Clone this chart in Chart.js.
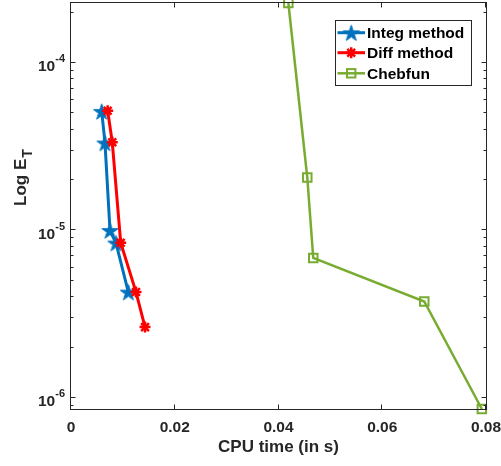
<!DOCTYPE html>
<html>
<head>
<meta charset="utf-8">
<script src="https://cdn.jsdelivr.net/npm/chart.js@4.4.0/dist/chart.umd.min.js"></script>
<style>
  html, body { margin: 0; padding: 0; background: #ffffff; }
  #wrap { width: 501px; height: 466px; }
</style>
</head>
<body>
<div id="wrap"><canvas id="c" width="501" height="466"></canvas></div>
<script>
const integTime = [0.00592, 0.00655, 0.00752, 0.00867, 0.01105];
const integErr  = [5.14e-5, 3.33e-5, 1.00e-5, 8.42e-6, 4.29e-6];
const diffTime  = [0.00707, 0.00796, 0.00958, 0.01253, 0.01427];
const diffErr   = [5.19e-5, 3.36e-5, 8.45e-6, 4.29e-6, 2.65e-6];
const chebTime  = [0.0419, 0.04555, 0.0467, 0.0681, 0.0792];
const chebErr   = [2.28e-4, 2.07e-5, 6.86e-6, 3.77e-6, 8.6e-7];
const seriesNames = ['Integ method', 'Diff method', 'Chebfun'];
const xTickValues = [0, 0.02, 0.04, 0.06, 0.08];
const xTickLabels = ['0', '0.02', '0.04', '0.06', '0.08'];
const yTickExps   = [-6, -5, -4];
const xTitle = 'CPU time (in s)';
const yTitleMain = 'Log E';
const yTitleSub = 'T';

const BLUE = '#0072BD', RED = '#FF0000', GREEN = '#77AC30', AX = '#262626';
const FONT = '"Liberation Sans", Arial, Helvetica, sans-serif';

function toPts(xs, ys) { return xs.map((x, i) => ({ x: x, y: ys[i] })); }

function makeStar(r, color) {
  const c = document.createElement('canvas');
  const s = Math.ceil(2 * r + 4);
  c.width = s; c.height = s;
  const g = c.getContext('2d');
  const cx = s / 2, cy = s / 2 + r * 0.1;
  g.beginPath();
  for (let i = 0; i < 10; i++) {
    const rr = (i % 2 === 0) ? r : r * 0.382;
    const a = -Math.PI / 2 + i * Math.PI / 5;
    const px = cx + rr * Math.cos(a), py = cy + rr * Math.sin(a);
    if (i === 0) g.moveTo(px, py); else g.lineTo(px, py);
  }
  g.closePath();
  g.fillStyle = color; g.fill();
  g.lineWidth = 1; g.strokeStyle = color; g.stroke();
  return c;
}
const starImg = makeStar(8.5, BLUE);

const yMin = Math.min(...chebErr, ...integErr, ...diffErr);
const yMax = Math.max(...chebErr, ...integErr, ...diffErr);

const decor = {
  id: 'decor',
  afterDraw(chart) {
    const ctx = chart.ctx;
    const a = chart.chartArea;
    const xs = chart.scales.x, ys = chart.scales.y;
    ctx.save();
    ctx.strokeStyle = AX; ctx.lineWidth = 1;
    ctx.strokeRect(Math.round(a.left) - 0.5, Math.round(a.top) - 0.5,
                   Math.round(a.right - a.left) + 1, Math.round(a.bottom - a.top) + 1);
    ctx.beginPath();
    xTickValues.forEach(v => {
      const px = Math.round(xs.getPixelForValue(v)) - 0.5;
      ctx.moveTo(px, a.bottom); ctx.lineTo(px, a.bottom - 4.5);
      ctx.moveTo(px, a.top); ctx.lineTo(px, a.top + 4.5);
    });
    for (let e = -7; e <= -3; e++) {
      for (let m = 1; m <= 9; m++) {
        const v = m * Math.pow(10, e);
        if (v < yMin * 0.999 || v > yMax * 1.001) continue;
        const py = Math.round(ys.getPixelForValue(v)) - 0.5;
        const len = (m === 1) ? 4.5 : 2.5;
        ctx.moveTo(a.left, py); ctx.lineTo(a.left + len, py);
        ctx.moveTo(a.right, py); ctx.lineTo(a.right - len, py);
      }
    }
    ctx.stroke();

    ctx.fillStyle = AX;
    yTickExps.forEach(k => {
      const py = ys.getPixelForValue(Math.pow(10, k));
      const sup = String(k);
      ctx.font = 'bold 11px ' + FONT;
      const sw = ctx.measureText(sup).width;
      const right = a.left - 6;
      ctx.textBaseline = 'middle';
      ctx.textAlign = 'left';
      ctx.fillText(sup, right - sw, py - 4);
      ctx.font = 'bold 15.5px ' + FONT;
      ctx.textAlign = 'right';
      ctx.fillText('10', right - sw, py + 4);
    });

    ctx.save();
    ctx.translate(26, 206);
    ctx.rotate(-Math.PI / 2);
    ctx.textAlign = 'left';
    ctx.textBaseline = 'alphabetic';
    ctx.font = 'bold 17px ' + FONT;
    ctx.fillText(yTitleMain, 0, 0);
    const mw = ctx.measureText(yTitleMain).width;
    ctx.font = 'bold 14px ' + FONT;
    ctx.fillText(yTitleSub, mw + 1, 6);
    ctx.restore();

    const lx = 335.5, ly = 20.5, lw = 136, lh = 65;
    ctx.fillStyle = '#ffffff';
    ctx.fillRect(lx, ly, lw, lh);
    ctx.strokeStyle = AX; ctx.lineWidth = 1;
    ctx.strokeRect(lx, ly, lw, lh);
    const rows = [32.7, 52.7, 73.3];
    const colors = [BLUE, RED, GREEN];
    const widths = [3, 3, 2.5];
    rows.forEach((ry, i) => {
      ctx.strokeStyle = colors[i]; ctx.lineWidth = widths[i];
      ctx.beginPath(); ctx.moveTo(337.5, ry); ctx.lineTo(365, ry); ctx.stroke();
      const mx = 351.2;
      if (i === 0) {
        ctx.drawImage(starImg, mx - starImg.width / 2, ry - starImg.height / 2);
      } else if (i === 1) {
        ctx.lineWidth = 2.5; ctx.beginPath();
        const r = 5.5;
        for (let k = 0; k < 4; k++) {
          const ang = k * Math.PI / 4;
          ctx.moveTo(mx - r * Math.cos(ang), ry - r * Math.sin(ang));
          ctx.lineTo(mx + r * Math.cos(ang), ry + r * Math.sin(ang));
        }
        ctx.stroke();
      } else {
        ctx.lineWidth = 2;
        ctx.strokeRect(mx - 4.2, ry - 4.2, 8.4, 8.4);
      }
      ctx.fillStyle = '#000000';
      ctx.font = 'bold 15.5px ' + FONT;
      ctx.textAlign = 'left'; ctx.textBaseline = 'middle';
      ctx.fillText(seriesNames[i], 367, ry + 1);
    });
    ctx.restore();
  }
};

new Chart(document.getElementById('c'), {
  type: 'scatter',
  data: {
    datasets: [
      { label: seriesNames[0], data: toPts(integTime, integErr), showLine: true,
        borderColor: BLUE, backgroundColor: BLUE, borderWidth: 3,
        pointStyle: starImg, pointRadius: 8, pointBorderWidth: 0, clip: false, order: 3 },
      { label: seriesNames[1], data: toPts(diffTime, diffErr), showLine: true,
        borderColor: RED, backgroundColor: RED, borderWidth: 3,
        pointStyle: 'star', pointRadius: 5.5, pointBorderWidth: 2.5, pointBorderColor: RED,
        clip: false, order: 2 },
      { label: seriesNames[2], data: toPts(chebTime, chebErr), showLine: true,
        borderColor: GREEN, backgroundColor: 'rgba(0,0,0,0)', borderWidth: 2.5,
        pointStyle: 'rect', pointRadius: 6, pointBorderWidth: 2, pointBorderColor: GREEN,
        clip: false, order: 1 }
    ]
  },
  options: {
    responsive: false,
    animation: false,
    events: [],
    layout: { autoPadding: false, padding: { left: 0, right: 15, top: 3, bottom: 0 } },
    plugins: { legend: { display: false }, tooltip: { enabled: false } },
    scales: {
      x: {
        type: 'linear', min: 0, max: 0.08,
        afterBuildTicks: (s) => { s.ticks = xTickValues.map(v => ({ value: v })); },
        afterFit: (s) => { s.height = 57; s.paddingLeft = 0; s.paddingRight = 0; },
        grid: { display: false, drawTicks: false, tickLength: 0 },
        border: { display: false },
        ticks: {
          padding: 9, color: AX, maxRotation: 0, autoSkip: false,
          font: { family: FONT, size: 15.5, weight: 'bold' },
          callback: (v, i) => xTickLabels[i]
        },
        title: {
          display: true, text: xTitle, color: AX,
          font: { family: FONT, size: 17, weight: 'bold' },
          padding: { top: 0, bottom: 8 }
        }
      },
      y: {
        type: 'logarithmic', min: yMin, max: yMax,
        afterFit: (s) => { s.width = 71; s.paddingTop = 0; s.paddingBottom = 0; },
        grid: { display: false, drawTicks: false },
        border: { display: false },
        ticks: { display: false }
      }
    }
  },
  plugins: [decor]
});
</script>
</body>
</html>
